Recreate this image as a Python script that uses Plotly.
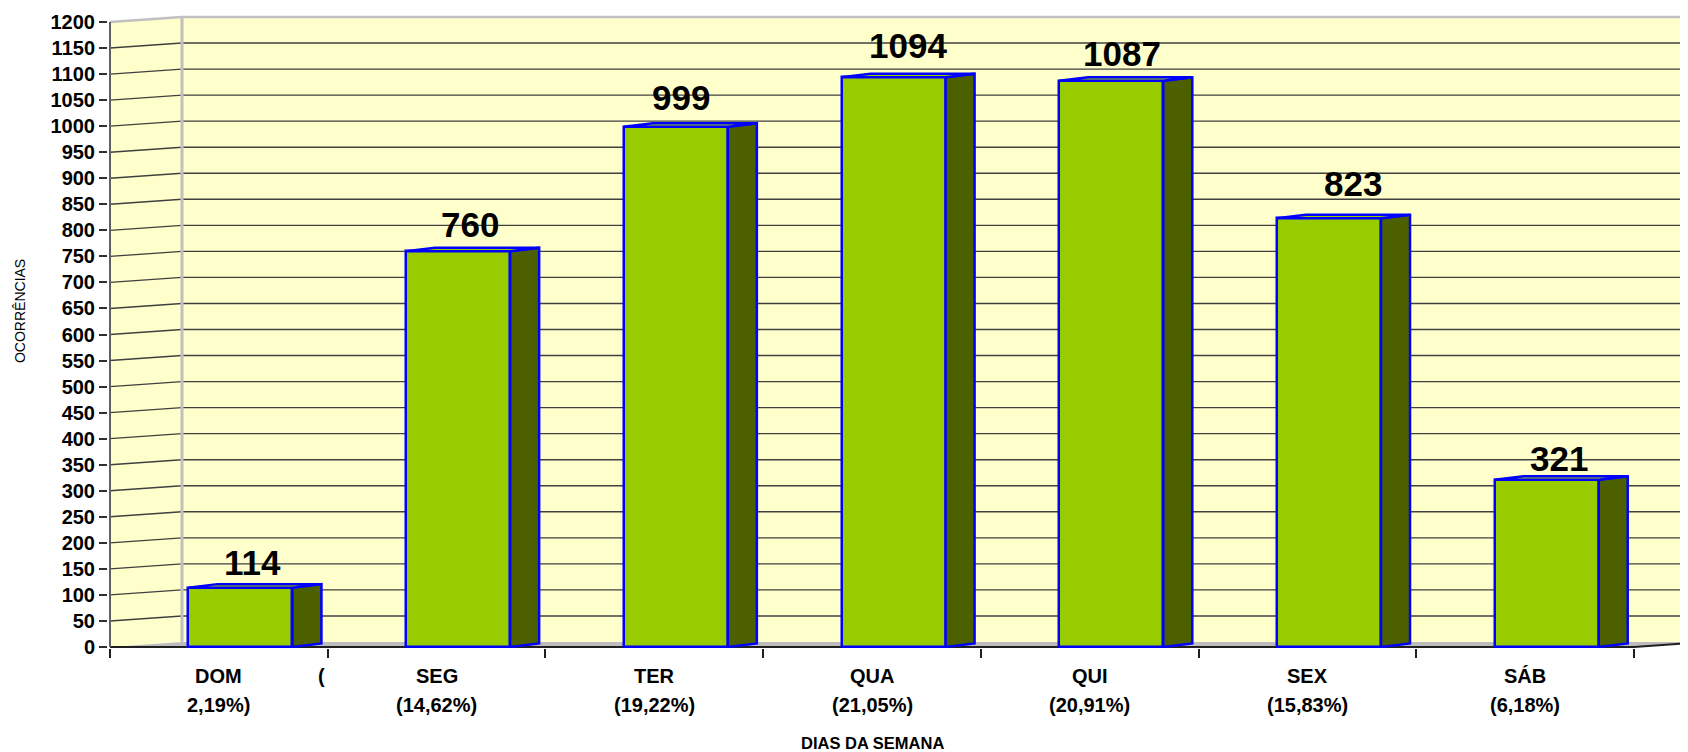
import plotly.graph_objects as go

# ---------------- data ----------------
days = ["DOM", "SEG", "TER", "QUA", "QUI", "SEX", "SÁB"]
counts = [114, 760, 999, 1094, 1087, 823, 321]
percents = ["2,19%", "14,62%", "19,22%", "21,05%", "20,91%", "15,83%", "6,18%"]
y_ticks = list(range(0, 1201, 50))

# ---------------- style ----------------
FONT = "Arial, Liberation Sans, sans-serif"
PX_CAT = 1524 / 7          # pixels per category
PX_VAL = 625 / 1200        # pixels per unit
WALL_DX, WALL_DY = 72 / PX_CAT, 5 / PX_VAL
BAR_DX, BAR_DY = 29 / PX_CAT, 3.5 / PX_VAL
BAR_OFF, BAR_W = -0.14, 0.478
X0, X1 = -0.5 - 2 / PX_CAT, -0.5 + 1578 / PX_CAT
Y0, Y1 = -1 / PX_VAL, 633 / PX_VAL
YMAX = y_ticks[-1]
label_yshift = [25, 27, 29, 32, 27, 35, 21]
label_xshift = [-2, -3, -9, 0, -4, 10, -2]

WALL = "#FFFFCC"
FRONT = "#99CC00"
SIDE = "#4C6000"
EDGE = "#0000FF"

n = len(days)
xl = [i + BAR_OFF for i in range(n)]
xr = [i + BAR_OFF + BAR_W for i in range(n)]

fig = go.Figure()

# front faces
fig.add_trace(go.Bar(
    x=list(range(n)), y=counts, width=BAR_W, offset=BAR_OFF,
    marker=dict(color=FRONT, line=dict(color=EDGE, width=2.5)),
    hoverinfo="skip", showlegend=False))

# side faces
sx, sy = [], []
for a, v in zip(xr, counts):
    sx += [a, a + BAR_DX, a + BAR_DX, a, a, None]
    sy += [0, BAR_DY, v + BAR_DY, v, 0, None]
fig.add_trace(go.Scatter(x=sx, y=sy, mode="lines", fill="toself", fillcolor=SIDE,
                         line=dict(color=EDGE, width=2.5), hoverinfo="skip", showlegend=False))
# top faces
tx, ty = [], []
for a, b, v in zip(xl, xr, counts):
    tx += [a, a + BAR_DX, b + BAR_DX, b, a, None]
    ty += [v, v + BAR_DY, v + BAR_DY, v, v, None]
fig.add_trace(go.Scatter(x=tx, y=ty, mode="lines", fill="toself", fillcolor=FRONT,
                         line=dict(color=EDGE, width=2.5), hoverinfo="skip", showlegend=False))

# ---------------- walls / floor as shapes ----------------
shapes = []
bx = -0.5 + WALL_DX
shapes.append(dict(type="rect", xref="x", yref="y", x0=bx, x1=X1 + 1, y0=WALL_DY, y1=YMAX + WALL_DY,
                   fillcolor=WALL, line=dict(width=0), layer="below"))
shapes.append(dict(type="path", xref="x", yref="y",
                   path=f"M -0.5,0 L {bx},{WALL_DY} L {bx},{YMAX + WALL_DY} L -0.5,{YMAX} Z",
                   fillcolor=WALL, line=dict(width=0), layer="below"))
for v in y_ticks[1:-1]:
    shapes.append(dict(type="path", xref="x", yref="y",
                       path=f"M -0.5,{v} L {bx},{v + WALL_DY} L {X1 + 1},{v + WALL_DY}",
                       line=dict(color="#404040", width=1.4), layer="below"))
shapes.append(dict(type="path", xref="x", yref="y",
                   path=f"M -0.5,{YMAX} L {bx},{YMAX + WALL_DY} L {X1 + 1},{YMAX + WALL_DY}",
                   line=dict(color="#C0C0C0", width=2.5), layer="below"))
shapes.append(dict(type="line", xref="x", yref="y", x0=bx, x1=bx, y0=WALL_DY, y1=YMAX + WALL_DY,
                   line=dict(color="#C0C0C0", width=3), layer="below"))
# floor
shapes.append(dict(type="path", xref="x", yref="y",
                   path=f"M -0.5,0 L {bx},{WALL_DY} L {n - 0.5 + WALL_DX},{WALL_DY} L {n - 0.5},0 Z",
                   fillcolor="#BDBDBD", line=dict(width=0), layer="below"))
# front axis lines
shapes.append(dict(type="path", xref="x", yref="y",
                   path=f"M -0.5,0 L {n - 0.5},0 L {n - 0.5 + WALL_DX},{WALL_DY}",
                   line=dict(color="#202020", width=2), layer="below"))
shapes.append(dict(type="line", xref="x", yref="y", x0=-0.5, x1=-0.5, y0=0, y1=YMAX,
                   line=dict(color="#606060", width=2), layer="below"))

# ---------------- annotations ----------------
ann = []
for i, (d, p, v) in enumerate(zip(days, percents, counts)):
    line2 = p + ")" if i == 0 else "(" + p + ")"
    ann.append(dict(x=i, y=0, xref="x", yref="paper", text=d, showarrow=False,
                    yanchor="middle", yshift=-28, font=dict(family=FONT, size=20, color="black", weight="bold")))
    ann.append(dict(x=i, y=0, xref="x", yref="paper", text=line2, showarrow=False,
                    yanchor="middle", yshift=-57, font=dict(family=FONT, size=20, color="black", weight="bold")))
    ann.append(dict(x=i + BAR_OFF + (BAR_W + BAR_DX) / 2, y=v, xref="x", yref="y", text=str(v),
                    showarrow=False, yanchor="middle", yshift=label_yshift[i], xshift=label_xshift[i],
                    font=dict(family=FONT, size=35, color="black", weight="bold")))
ann.append(dict(x=0.47, y=0, xref="x", yref="paper", text="(", showarrow=False,
                yanchor="middle", yshift=-28, font=dict(family=FONT, size=20, color="black", weight="bold")))
ann.append(dict(x=(n - 1) / 2, y=0, xref="x", yref="paper", text="DIAS DA SEMANA", showarrow=False,
                yanchor="middle", yshift=-95, font=dict(family=FONT, size=16.5, color="black", weight="bold")))
ann.append(dict(x=-0.0557, y=0.5315, xref="paper", yref="paper", text="OCORRÊNCIAS", showarrow=False,
                textangle=-90, xanchor="center", yanchor="middle",
                font=dict(family=FONT, size=14, color="black")))

# page body has an 8px margin: the figure is offset by 8px, so it is 8px smaller
fig.update_layout(
    width=1680, height=744, autosize=False,
    margin=dict(l=100, r=0, t=6, b=104, pad=0),
    paper_bgcolor="white", plot_bgcolor="white",
    showlegend=False, bargap=0,
    shapes=shapes, annotations=ann,
    xaxis=dict(range=[X0, X1], tickvals=[i - 0.5 for i in range(n + 1)], showticklabels=False,
               ticks="outside", ticklen=9, tickwidth=1.5, tickcolor="#202020",
               showgrid=False, zeroline=False, showline=False),
    yaxis=dict(range=[Y0, Y1], tickvals=y_ticks, ticktext=[str(t) for t in y_ticks],
               ticks="outside", ticklen=8, tickwidth=1.5, tickcolor="#303030",
               tickfont=dict(family=FONT, size=20, color="black", weight="bold"),
               showgrid=False, zeroline=False, showline=False),
)

fig.write_html("out.html")
